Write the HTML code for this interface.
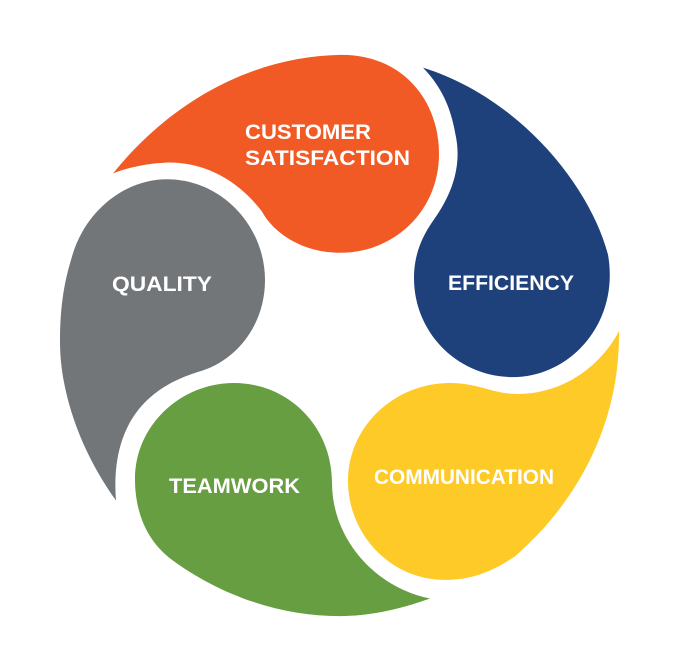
<!DOCTYPE html>
<html><head><meta charset="utf-8"><style>
html,body{margin:0;padding:0;background:#fff;}
svg{display:block;}
text{font-family:"Liberation Sans",sans-serif;font-weight:bold;fill:#fff;font-size:21px;}
</style></head><body>
<svg width="680" height="666" viewBox="0 0 680 666" xmlns="http://www.w3.org/2000/svg">
<g transform="scale(1,0.9795)">
<path fill="#f15a24" d="M113,177 C170,105 250,58 340,56 C400,55 439,100 439,157 C439,215 395,258 340,258 C305,258 275,240 262,216 C235,180 200,165 166,166 C145,167 125,172 113,177Z"/>
<path fill="#1f417b" d="M423,69 C520,100 590,190 608,260 C620,330 570,385 513,385 C458,385 414,340 414,284 C414,260 422,242 432,227 C455,195 462,165 455,135 C450,105 438,85 423,69Z"/>
<path fill="#fdca28" d="M619,338 C620,430 580,510 515,568 C490,585 470,592 445,592 C390,592 348,545 348,491 C348,435 395,391 450,391 C475,391 490,400 511,402 C560,405 600,375 619,338Z"/>
<path fill="#679e41" d="M430,611 C400,622 370,629 340,629 C280,629 220,608 170,570 C145,550 135,520 135,489 C135,435 180,391 234,391 C288,391 332,435 332,493 C332,550 375,600 430,611Z"/>
<path fill="#737679" d="M116,511 C80,460 60,400 60,349 C60,310 65,285 72,262 C85,215 125,183 167,183 C221,183 265,230 265,286 C265,333 235,370 197,380 C150,395 110,430 116,511Z"/>
</g>
<text x="245" y="139" textLength="126" lengthAdjust="spacingAndGlyphs">CUSTOMER</text>
<text x="245" y="165" textLength="165" lengthAdjust="spacingAndGlyphs">SATISFACTION</text>
<text x="448" y="290" textLength="126" lengthAdjust="spacingAndGlyphs">EFFICIENCY</text>
<text x="112" y="291" textLength="100" lengthAdjust="spacingAndGlyphs">QUALITY</text>
<text x="374" y="484" textLength="180" lengthAdjust="spacingAndGlyphs">COMMUNICATION</text>
<text x="169" y="493" textLength="131" lengthAdjust="spacingAndGlyphs">TEAMWORK</text>
</svg>
</body></html>
